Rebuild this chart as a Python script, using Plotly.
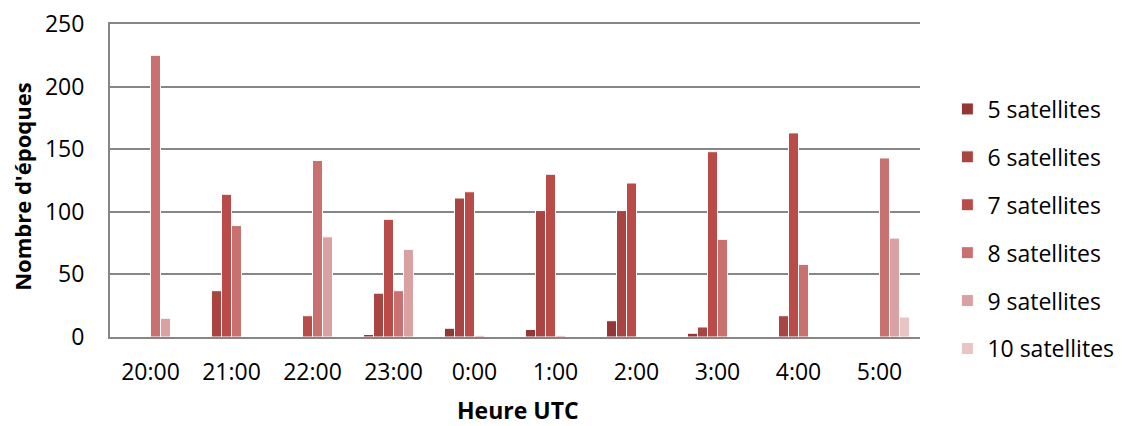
import plotly.graph_objects as go

hours = ["20:00", "21:00", "22:00", "23:00", "0:00", "1:00", "2:00", "3:00", "4:00", "5:00"]
series_names = ["5 satellites", "6 satellites", "7 satellites", "8 satellites", "9 satellites", "10 satellites"]
sat5 = [0, 0, 0, 2, 7, 6, 13, 3, 0, 0]
sat6 = [0, 37, 0, 35, 111, 101, 101, 8, 17, 0]
sat7 = [0, 114, 17, 94, 116, 130, 123, 148, 163, 0]
sat8 = [225, 89, 141, 37, 1, 1, 0, 78, 58, 143]
sat9 = [15, 0, 80, 70, 0, 0, 0, 0, 0, 79]
sat10 = [0, 0, 0, 0, 0, 0, 0, 0, 0, 16]
y_ticks = [0, 50, 100, 150, 200, 250]
colors = ["#943634", "#A84442", "#B94B48", "#C87170", "#D9A1A1", "#E8C4C4"]

fig = go.Figure()
for i, (name, vals) in enumerate(zip(series_names, [sat5, sat6, sat7, sat8, sat9, sat10])):
    fig.add_trace(go.Bar(
        x=hours, y=vals, name=name, legendgroup=name,
        marker=dict(color=colors[i], line=dict(color="white", width=1)),
    ))

font_family = "'Open Sans', sans-serif"
# page body adds an 8px offset, so the figure is 8px smaller and margins shifted
fig.update_layout(
    width=1114, height=418,
    margin=dict(l=102, r=202, t=16, b=89, autoexpand=False),
    paper_bgcolor="white", plot_bgcolor="white",
    barmode="group", bargap=0.26, bargroupgap=0,
    font=dict(family=font_family, size=23, color="#000000"),
    showlegend=True,
    legend=dict(x=1.0338, y=0.345, xanchor="left", yanchor="middle",
                font=dict(size=23, color="#000000"),
                tracegroupgap=15, itemwidth=30, bgcolor="rgba(0,0,0,0)"),
    xaxis=dict(
        automargin=False,
        showline=True, linecolor="#868686", linewidth=2, mirror=True,
        tickfont=dict(size=23), ticks="outside", ticklen=13,
        tickcolor="rgba(0,0,0,0)", showgrid=False,
    ),
    yaxis=dict(
        automargin=False, ticklabeloverflow="allow",
        range=[0, 250.001], tickmode="array", tickvals=y_ticks,
        ticktext=[str(v) for v in y_ticks],
        showline=True, linecolor="#868686", linewidth=2,
        showgrid=True, gridcolor="#868686", gridwidth=2,
        tickfont=dict(size=23), ticks="outside", ticklen=19,
        tickcolor="rgba(0,0,0,0)", zeroline=False,
    ),
    annotations=[
        dict(text="<b>Nombre d'époques</b>", xref="paper", yref="paper",
             x=-0.1086, y=0.48, xanchor="center", yanchor="middle",
             textangle=-90, showarrow=False, font=dict(size=22)),
        dict(text="<b>Heure UTC</b>", xref="paper", yref="paper",
             x=0.504, y=-0.233, xanchor="center", yanchor="middle",
             showarrow=False, font=dict(size=23)),
    ],
)

fig.write_html("out.html")
